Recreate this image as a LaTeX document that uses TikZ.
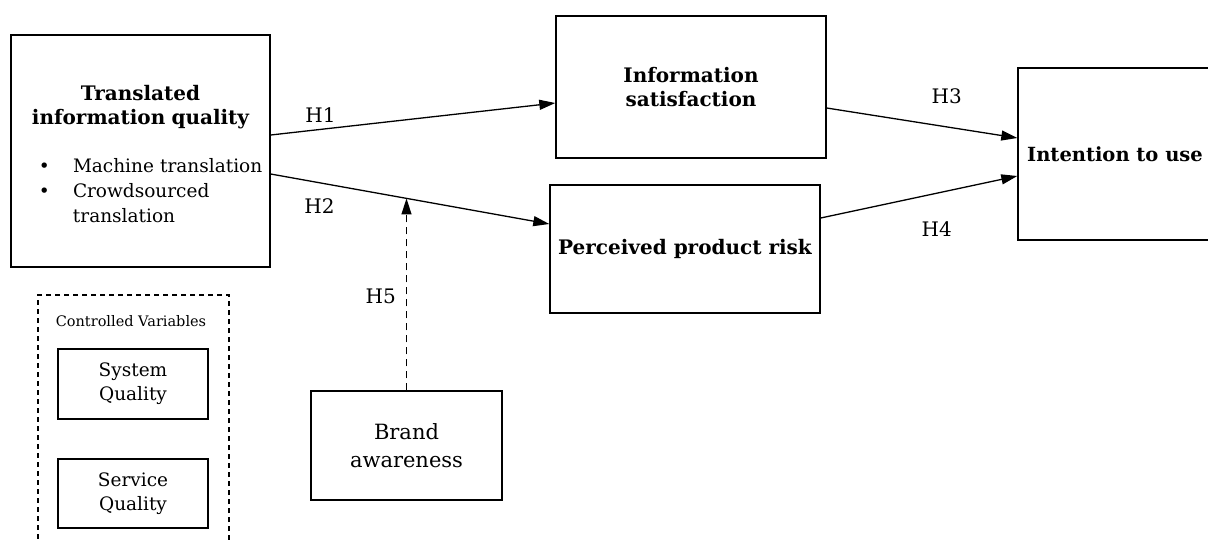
\documentclass[tikz,border=0pt]{standalone}
\usepackage{fontspec}
\setmainfont{DejaVu Serif}
\usetikzlibrary{arrows.meta,positioning}

\begin{document}
\begin{tikzpicture}[x=1pt, y=-1pt,
    block/.style ={rectangle, draw=black, line width=1.4pt, fill=white,
      align=center, inner sep=0pt},
    block_bold/.style ={block, font=\fontsize{20}{24}\selectfont\bfseries},
    block_plain/.style ={block, font=\fontsize{18.5}{24}\selectfont},
    block_dashed/.style ={rectangle, draw=black, line width=1.2pt,
      dash pattern=on 5pt off 4pt},
    hyp/.style ={font=\fontsize{20}{24}\selectfont, inner sep=0pt},
    line/.style ={draw, line width=1.3pt, -{Triangle[length=16pt,width=10pt]},
      shorten >=0pt},
    line_dashed/.style ={line, dash pattern=on 7pt off 5pt}]
    \useasboundingbox (0,0) rectangle (1208,539);
    % constructs
    \node [block, minimum width=259pt, minimum height=232pt, text width=259pt,
      align=left, font=\fontsize{18.5}{25}\selectfont] (quality) at (140.5,151) {
      {\centering\fontsize{20}{24}\selectfont\bfseries
        \rule{0pt}{22pt}Translated\\information quality\par}
      \vspace{23pt}
      \hspace*{28pt}\makebox[34pt][l]{\textbullet}Machine translation\\
      \hspace*{28pt}\makebox[34pt][l]{\textbullet}Crowdsourced\\
      \hspace*{62pt}translation};
    \node [block_bold, minimum width=270pt, minimum height=142pt]
      (satisfaction) at (691,87) {Information\\satisfaction};
    \node [block_bold, minimum width=270pt, minimum height=128pt]
      (risk) at (685,249) {Perceived product risk};
    \node [block_bold, minimum width=194pt, minimum height=172pt,
      font=\fontsize{19.5}{24}\selectfont\bfseries]
      (intention) at (1115,154) {Intention to use};
    \node [block, minimum width=191pt, minimum height=109pt,
      font=\fontsize{21}{28}\selectfont] (brand) at (406.5,445.5) {Brand\\awareness};
    % controlled variables
    \node [block_dashed, minimum width=191pt, minimum height=270pt]
      (controls) at (133.5,430) {};
    \node [font=\fontsize{14.5}{17}\selectfont, inner sep=0pt]
      (controls_title) at (131,321) {Controlled Variables};
    \node [block_plain, minimum width=150pt, minimum height=70pt]
      (system) at (133,384) {System\\Quality};
    \node [block_plain, minimum width=150pt, minimum height=69pt]
      (service) at (133,493.5) {Service\\Quality};
    % hypotheses
    \path [line] ([yshift=16pt]quality.east) --
      node [pos=0.175, above=6pt, hyp] {H1} ([yshift=-16pt]satisfaction.west);
    \path [line] ([yshift=-23pt]quality.east) --
      node [pos=0.175, below=15pt, hyp] {H2}
      coordinate [pos=0.489] (moderation) ([yshift=25pt]risk.west);
    \path [line] ([yshift=-21pt]satisfaction.east) --
      node [pos=0.63, above=22.5pt, hyp] {H3} ([yshift=16pt]intention.west);
    \path [line] ([yshift=31pt]risk.east) --
      node [pos=0.59, below=27.5pt, hyp] {H4} ([yshift=-22pt]intention.west);
    \path [line_dashed] (brand.north) --
      node [pos=0.49, left=10pt, hyp] {H5} (brand.north |- moderation);
\end{tikzpicture}
\end{document}
